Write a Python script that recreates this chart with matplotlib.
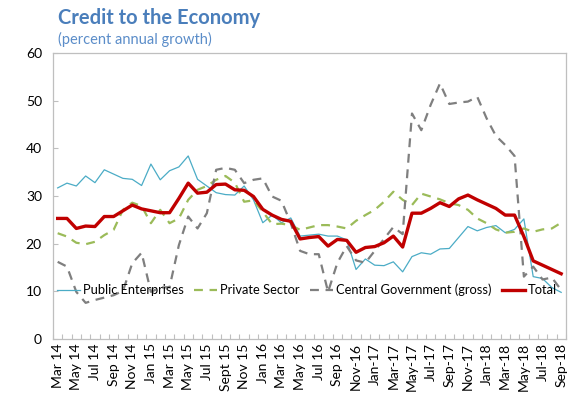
import matplotlib
matplotlib.use("Agg")
import matplotlib.pyplot as plt
import numpy as np

plt.rcParams["font.family"] = ["Lato", "DejaVu Sans"]

# monthly series, Mar 2014 .. Sep 2018
public = [31.7, 32.7, 32.1, 34.2, 32.8, 35.5, 34.6, 33.7, 33.5, 32.2,
          36.7, 33.4, 35.3, 36.1, 38.4, 33.5, 32.1, 30.7, 30.3, 30.2,
          32.1, 29.2, 24.4, 26.0, 24.4, 25.4, 21.6, 21.8, 22.0, 21.6,
          21.6, 20.8, 14.6, 16.8, 15.5, 15.4, 16.2, 14.1, 17.3, 18.1,
          17.8, 18.9, 19.0, 21.3, 23.6, 22.7, 23.4, 23.8, 22.3, 23.0,
          25.2, 13.1, 12.7, 10.8, 9.8]
private = [22.2, 21.5, 20.2, 19.9, 20.4, 21.8, 22.9, 27.1, 28.6, 27.9,
           24.3, 27.1, 24.3, 25.3, 29.2, 31.3, 32.1, 33.4, 34.2, 32.8,
           28.8, 29.1, 26.7, 24.1, 24.2, 23.9, 22.9, 23.4, 23.9, 23.9,
           23.6, 23.2, 24.8, 26.0, 27.1, 28.8, 30.9, 29.2, 28.1, 30.5,
           29.9, 29.3, 28.5, 28.1, 27.1, 25.3, 24.3, 23.0, 22.3, 22.5,
           23.2, 22.5, 23.0, 23.2, 24.4]
central = [16.2, 15.2, 9.9, 7.6, 8.2, 8.7, 9.2, 10.1, 15.9, 18.1,
           9.9, 10.8, 10.9, 19.7, 25.7, 23.2, 26.4, 35.5, 35.9, 35.5,
           32.7, 33.4, 33.7, 29.9, 29.0, 24.3, 18.5, 17.8, 17.8, 9.9,
           16.0, 19.5, 16.5, 16.0, 18.5, 21.0, 23.5, 22.0, 47.3, 43.8,
           49.1, 53.6, 49.3, 49.6, 49.8, 50.8, 46.3, 42.6, 40.7, 38.4,
           13.1, 15.2, 12.5, 12.9, 10.3]
total = [25.3, 25.3, 23.2, 23.7, 23.6, 25.7, 25.7, 26.9, 28.1, 27.3,
         26.9, 26.5, 26.5, 29.5, 32.7, 30.6, 30.8, 32.4, 32.5, 31.3,
         31.2, 29.9, 27.2, 26.0, 25.1, 24.7, 21.0, 21.3, 21.5, 19.5,
         20.9, 20.7, 18.2, 19.2, 19.4, 20.2, 21.6, 19.3, 26.4, 26.4,
         27.4, 28.6, 27.8, 29.4, 30.2, 29.2, 28.3, 27.4, 26.0, 26.0,
         21.5, 16.4, 15.5, 14.6, 13.7]

# every second month is labelled
tick_labels = ["Mar 14", "May 14", "Jul 14", "Sep 14", "Nov 14", "Jan 15",
               "Mar 15", "May 15", "Jul 15", "Sept 15", "Nov 15", "Jan 16",
               "Mar 16", "May 16", "Jul 16", "Sep 16", "Nov-16", "Jan-17",
               "Mar-17", "May-17", "Jul-17", "Sep-17", "Nov-17", "Jan-18",
               "Mar-18", "May-18", "Jul-18", "Sep-18"]

x = np.arange(len(total))

fig = plt.figure(figsize=(5.73, 3.98), dpi=100)
ax = fig.add_axes([0.0925, 0.148, 0.895, 0.719])

ax.plot(x, public, color="#4BACC6", lw=0.9, label="Public Enterprises")
ax.plot(x, private, color="#9BBB59", lw=1.6, dashes=(4, 3), label="Private Sector")
ax.plot(x, central, color="#7F7F7F", lw=1.6, dashes=(4, 3),
        label="Central Government (gross)")
ax.plot(x, total, color="#C00000", lw=2.4, label="Total")

ax.set_xlim(-0.5, len(total) - 0.5)
ax.set_ylim(0, 60)
ax.set_yticks(range(0, 61, 10))

ax.set_xticks(x[::2])
ax.set_xticklabels(tick_labels, rotation=90, fontsize=10)
ax.set_xticks(np.arange(-0.5, len(total), 1), minor=True)
ax.tick_params(axis="x", which="major", length=0, pad=3)
ax.tick_params(axis="x", which="minor", direction="in", length=3.5,
               color="#BFBFBF", width=0.8)
ax.tick_params(axis="y", direction="in", length=3.5, color="#BFBFBF",
               labelsize=10, pad=8)

for s in ax.spines.values():
    s.set_color("#BFBFBF")
    s.set_linewidth(0.9)

ax.legend(loc="center", bbox_to_anchor=(0.495, 0.171), ncol=4,
          frameon=False, fontsize=9.3, handlelength=1.8, columnspacing=0.8,
          handletextpad=0.2, borderaxespad=0, borderpad=0)

fig.text(0.101, 0.955, "Credit to the Economy", fontsize=14.5,
         fontweight="bold", color="#4A7EBB", va="center")
fig.text(0.101, 0.9, "(percent annual growth)", fontsize=10.5,
         color="#5B8DC9", va="center")

fig.savefig("out.png", dpi=100)
